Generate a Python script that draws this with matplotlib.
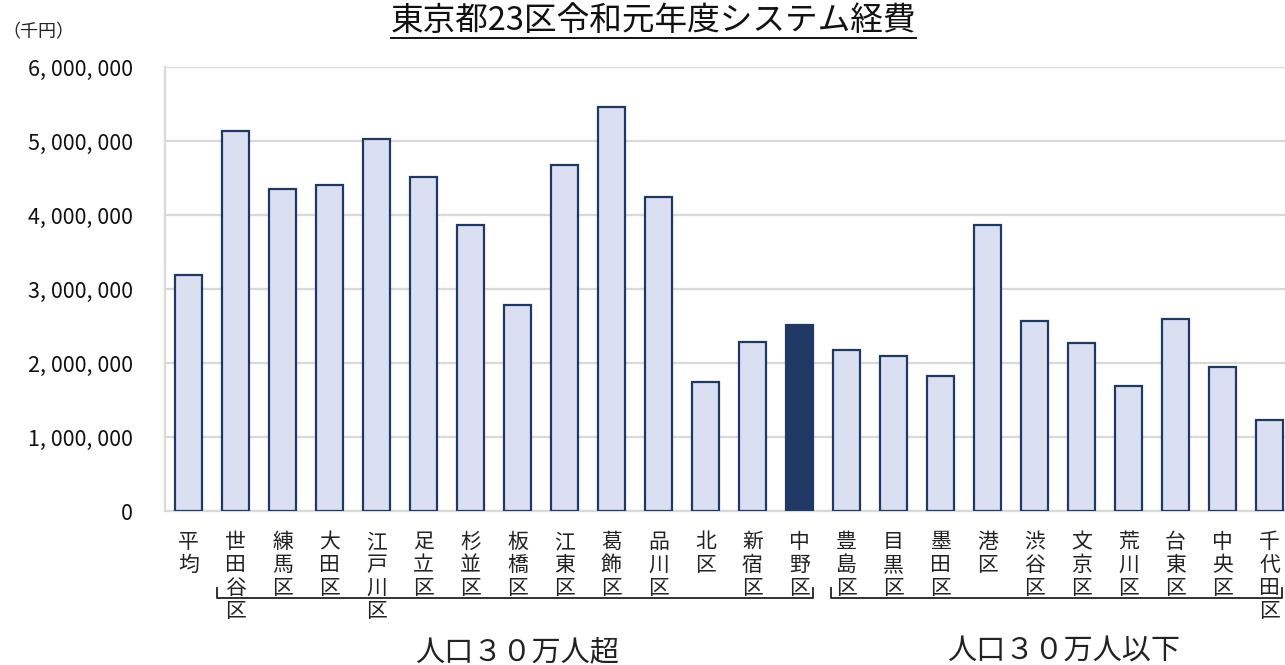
import numpy as np
import matplotlib
matplotlib.use("Agg")
import matplotlib.pyplot as plt
from matplotlib.lines import Line2D
import matplotlib.transforms as mtransforms

plt.rcParams['font.family'] = ['Noto Sans CJK JP', 'DejaVu Sans']

# ---- data ----
categories = ["平均", "世田谷区", "練馬区", "大田区", "江戸川区", "足立区", "杉並区",
              "板橋区", "江東区", "葛飾区", "品川区", "北区", "新宿区", "中野区",
              "豊島区", "目黒区", "墨田区", "港区", "渋谷区", "文京区", "荒川区",
              "台東区", "中央区", "千代田区"]
values = [3190000, 5130000, 4350000, 4410000, 5030000, 4510000, 3870000,
          2790000, 4680000, 5460000, 4240000, 1740000, 2290000, 2510000,
          2180000, 2100000, 1830000, 3870000, 2565000, 2265000, 1690000,
          2595000, 1940000, 1230000]
highlight = "中野区"
yticks = [0, 1000000, 2000000, 3000000, 4000000, 5000000, 6000000]
title = "東京都23区令和元年度システム経費"
unit_label = "（千円）"
group_labels = ["人口３０万人超", "人口３０万人以下"]

W, H = 1285, 665
fig = plt.figure(figsize=(W / 100, H / 100), dpi=100)
fig.patch.set_facecolor("white")

def fx(px):
    return px / W

def fy(py):
    return 1 - py / H

ax_left, ax_right, ax_top, ax_bottom = 165, 1293, 67, 511
ax = fig.add_axes([fx(ax_left), fy(ax_bottom), fx(ax_right - ax_left), (ax_bottom - ax_top) / H])

x = np.arange(len(categories))
light = "#dae0f2"
dark = "#203864"
colors = [dark if c == highlight else light for c in categories]
ax.bar(x, values, width=0.57, color=colors, edgecolor=dark, linewidth=1.6, zorder=3)

ax.set_xlim(-0.5, len(categories) - 0.5)
ax.set_ylim(0, 6000000)
ax.set_yticks(yticks)
ax.set_yticklabels([f"{v:,}".replace(",", ", ") for v in yticks],
                   fontsize=15.5, color="#111111")
ax.set_xticks([])
ax.tick_params(axis="y", length=0, pad=23)
ax.yaxis.grid(True, color="#d9d9d9", linewidth=1.6, zorder=0)
ax.set_axisbelow(True)
for s in ["top", "right"]:
    ax.spines[s].set_visible(False)
ax.spines["left"].set_color("#d9d9d9")
ax.spines["left"].set_linewidth(1.6)
ax.spines["bottom"].set_color("#d9d9d9")
ax.spines["bottom"].set_linewidth(1.6)

# vertical category labels, one character per row
trans = mtransforms.blended_transform_factory(ax.transData, fig.transFigure)
row0, pitch = 542, 23
for i, name in enumerate(categories):
    for j, ch in enumerate(name):
        ax.text(i, fy(row0 + j * pitch), ch, transform=trans, ha="center", va="center",
                fontsize=15, color="#222222", clip_on=False)

# group brackets
brackets = [(0.61, 13.29), (13.67, 23.27)]
y_top, y_bot = fy(588), fy(598)
for (a, b) in brackets:
    ln = Line2D([a, a, b, b], [y_top, y_bot, y_bot, y_top], transform=trans,
                color="#222222", linewidth=1.3, clip_on=False)
    ax.add_line(ln)

fig.text(fx(517), fy(652), group_labels[0], ha="center", va="center", fontsize=21, color="#222222")
fig.text(fx(1064), fy(652), group_labels[1], ha="center", va="center", fontsize=21, color="#222222")

# unit label
fig.text(fx(2), fy(32), unit_label, ha="left", va="center", fontsize=13, color="#222222")

# title with underline
t = fig.text(fx(653.5), fy(21), title, ha="center", va="center", fontsize=23.5, color="#111111")
fig.canvas.draw()
bb = t.get_window_extent(renderer=fig.canvas.get_renderer())
fig.add_artist(Line2D([bb.x0 / W, bb.x1 / W], [fy(38), fy(38)], transform=fig.transFigure,
                      color="#111111", linewidth=1.4))

fig.savefig("out.png", dpi=100, facecolor="white")
